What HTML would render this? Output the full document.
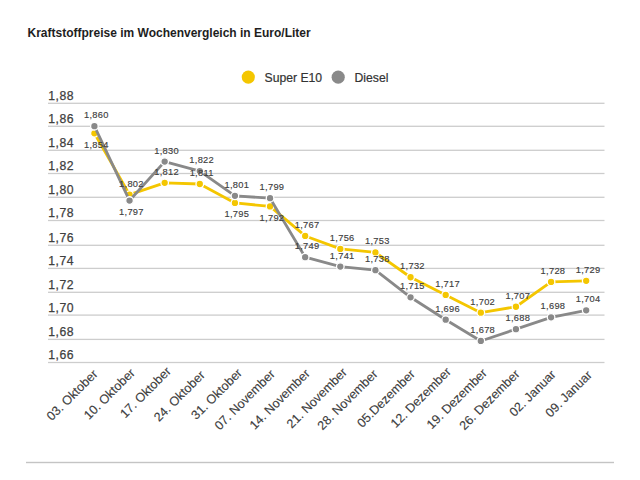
<!DOCTYPE html>
<html><head><meta charset="utf-8"><style>
html,body{margin:0;padding:0;background:#fff;width:640px;height:480px;overflow:hidden}
svg{display:block}
text{font-family:"Liberation Sans",sans-serif;stroke:#404040;stroke-width:0.25px}
.title{stroke:none}
.title{font-size:12px;font-weight:bold;fill:#1e1e1e}
.leg{font-size:12.2px;fill:#333;stroke:#333;stroke-width:0.2px}
.yt{font-size:12.2px;fill:#404040;letter-spacing:0.55px}
.dl{font-size:9.3px;fill:#404040;text-anchor:middle;letter-spacing:0.3px;stroke-width:0.15px}
.xl{font-size:12.6px;fill:#404040;text-anchor:end;stroke-width:0.12px}
</style></head><body>
<svg width="640" height="480" viewBox="0 0 640 480">
<text x="27.5" y="37" class="title">Kraftstoffpreise im Wochenvergleich in Euro/Liter</text>
<circle cx="248.3" cy="77.1" r="6.6" fill="#F4C600"/>
<text x="264.5" y="82" class="leg">Super E10</text>
<circle cx="338.2" cy="77.2" r="6.6" fill="#898989"/>
<text x="354.5" y="82" class="leg">Diesel</text>
<rect x="48" y="102.65" width="556.5" height="1.3" fill="#cdcdcd"/>
<text x="48.2" y="99.75" class="yt">1,88</text>
<rect x="48" y="125.65" width="556.5" height="1.3" fill="#cdcdcd"/>
<text x="48.2" y="122.75" class="yt">1,86</text>
<rect x="48" y="149.65" width="556.5" height="1.3" fill="#cdcdcd"/>
<text x="48.2" y="146.75" class="yt">1,84</text>
<rect x="48" y="172.85" width="556.5" height="1.3" fill="#cdcdcd"/>
<text x="48.2" y="169.75" class="yt">1,82</text>
<rect x="48" y="196.65" width="556.5" height="1.3" fill="#cdcdcd"/>
<text x="48.2" y="193.75" class="yt">1,80</text>
<rect x="48" y="219.85" width="556.5" height="1.3" fill="#cdcdcd"/>
<text x="48.2" y="216.75" class="yt">1,78</text>
<rect x="48" y="244.65" width="556.5" height="1.3" fill="#cdcdcd"/>
<text x="48.2" y="241.75" class="yt">1,76</text>
<rect x="48" y="267.75" width="556.5" height="1.3" fill="#cdcdcd"/>
<text x="48.2" y="264.75" class="yt">1,74</text>
<rect x="48" y="291.65" width="556.5" height="1.3" fill="#cdcdcd"/>
<text x="48.2" y="288.75" class="yt">1,72</text>
<rect x="48" y="314.45" width="556.5" height="1.3" fill="#cdcdcd"/>
<text x="48.2" y="311.75" class="yt">1,70</text>
<rect x="48" y="338.75" width="556.5" height="1.3" fill="#cdcdcd"/>
<text x="48.2" y="335.75" class="yt">1,68</text>
<rect x="48" y="361.85" width="556.5" height="1.3" fill="#cdcdcd"/>
<text x="48.2" y="358.75" class="yt">1,66</text>
<rect x="26" y="461.8" width="588" height="1.4" fill="#c4c4c4"/>
<polyline points="94.41,133.28 129.54,194.64 164.67,182.84 199.79,184.02 234.92,202.90 270.05,206.44 305.18,235.94 340.31,248.92 375.43,252.46 410.56,277.24 445.69,294.94 480.82,312.64 515.95,306.74 551.07,281.96 586.20,280.78" fill="none" stroke="#F4C600" stroke-width="2.8" stroke-linejoin="round"/>
<circle cx="94.41" cy="133.28" r="3.8" fill="#F4C600" stroke="#fff" stroke-width="1.3"/>
<circle cx="129.54" cy="194.64" r="3.8" fill="#F4C600" stroke="#fff" stroke-width="1.3"/>
<circle cx="164.67" cy="182.84" r="3.8" fill="#F4C600" stroke="#fff" stroke-width="1.3"/>
<circle cx="199.79" cy="184.02" r="3.8" fill="#F4C600" stroke="#fff" stroke-width="1.3"/>
<circle cx="234.92" cy="202.90" r="3.8" fill="#F4C600" stroke="#fff" stroke-width="1.3"/>
<circle cx="270.05" cy="206.44" r="3.8" fill="#F4C600" stroke="#fff" stroke-width="1.3"/>
<circle cx="305.18" cy="235.94" r="3.8" fill="#F4C600" stroke="#fff" stroke-width="1.3"/>
<circle cx="340.31" cy="248.92" r="3.8" fill="#F4C600" stroke="#fff" stroke-width="1.3"/>
<circle cx="375.43" cy="252.46" r="3.8" fill="#F4C600" stroke="#fff" stroke-width="1.3"/>
<circle cx="410.56" cy="277.24" r="3.8" fill="#F4C600" stroke="#fff" stroke-width="1.3"/>
<circle cx="445.69" cy="294.94" r="3.8" fill="#F4C600" stroke="#fff" stroke-width="1.3"/>
<circle cx="480.82" cy="312.64" r="3.8" fill="#F4C600" stroke="#fff" stroke-width="1.3"/>
<circle cx="515.95" cy="306.74" r="3.8" fill="#F4C600" stroke="#fff" stroke-width="1.3"/>
<circle cx="551.07" cy="281.96" r="3.8" fill="#F4C600" stroke="#fff" stroke-width="1.3"/>
<circle cx="586.20" cy="280.78" r="3.8" fill="#F4C600" stroke="#fff" stroke-width="1.3"/>
<polyline points="94.41,126.20 129.54,200.54 164.67,161.60 199.79,171.04 234.92,195.82 270.05,198.18 305.18,257.18 340.31,266.62 375.43,270.16 410.56,297.30 445.69,319.72 480.82,340.96 515.95,329.16 551.07,317.36 586.20,310.28" fill="none" stroke="#898989" stroke-width="2.8" stroke-linejoin="round"/>
<circle cx="94.41" cy="126.20" r="3.8" fill="#898989" stroke="#fff" stroke-width="1.3"/>
<circle cx="129.54" cy="200.54" r="3.8" fill="#898989" stroke="#fff" stroke-width="1.3"/>
<circle cx="164.67" cy="161.60" r="3.8" fill="#898989" stroke="#fff" stroke-width="1.3"/>
<circle cx="199.79" cy="171.04" r="3.8" fill="#898989" stroke="#fff" stroke-width="1.3"/>
<circle cx="234.92" cy="195.82" r="3.8" fill="#898989" stroke="#fff" stroke-width="1.3"/>
<circle cx="270.05" cy="198.18" r="3.8" fill="#898989" stroke="#fff" stroke-width="1.3"/>
<circle cx="305.18" cy="257.18" r="3.8" fill="#898989" stroke="#fff" stroke-width="1.3"/>
<circle cx="340.31" cy="266.62" r="3.8" fill="#898989" stroke="#fff" stroke-width="1.3"/>
<circle cx="375.43" cy="270.16" r="3.8" fill="#898989" stroke="#fff" stroke-width="1.3"/>
<circle cx="410.56" cy="297.30" r="3.8" fill="#898989" stroke="#fff" stroke-width="1.3"/>
<circle cx="445.69" cy="319.72" r="3.8" fill="#898989" stroke="#fff" stroke-width="1.3"/>
<circle cx="480.82" cy="340.96" r="3.8" fill="#898989" stroke="#fff" stroke-width="1.3"/>
<circle cx="515.95" cy="329.16" r="3.8" fill="#898989" stroke="#fff" stroke-width="1.3"/>
<circle cx="551.07" cy="317.36" r="3.8" fill="#898989" stroke="#fff" stroke-width="1.3"/>
<circle cx="586.20" cy="310.28" r="3.8" fill="#898989" stroke="#fff" stroke-width="1.3"/>
<text x="96.31" y="147.78" class="dl">1,854</text>
<text x="131.44" y="186.54" class="dl">1,802</text>
<text x="166.57" y="174.74" class="dl">1,812</text>
<text x="201.69" y="175.92" class="dl">1,811</text>
<text x="236.82" y="217.40" class="dl">1,795</text>
<text x="271.95" y="220.94" class="dl">1,792</text>
<text x="307.08" y="227.84" class="dl">1,767</text>
<text x="342.21" y="240.82" class="dl">1,756</text>
<text x="377.33" y="244.36" class="dl">1,753</text>
<text x="412.46" y="269.14" class="dl">1,732</text>
<text x="447.59" y="286.84" class="dl">1,717</text>
<text x="482.72" y="304.54" class="dl">1,702</text>
<text x="517.85" y="298.64" class="dl">1,707</text>
<text x="552.97" y="273.86" class="dl">1,728</text>
<text x="588.10" y="272.68" class="dl">1,729</text>
<text x="96.31" y="118.10" class="dl">1,860</text>
<text x="131.44" y="215.04" class="dl">1,797</text>
<text x="166.57" y="153.50" class="dl">1,830</text>
<text x="201.69" y="162.94" class="dl">1,822</text>
<text x="236.82" y="187.72" class="dl">1,801</text>
<text x="271.95" y="190.08" class="dl">1,799</text>
<text x="307.08" y="249.08" class="dl">1,749</text>
<text x="342.21" y="258.52" class="dl">1,741</text>
<text x="377.33" y="262.06" class="dl">1,738</text>
<text x="412.46" y="289.20" class="dl">1,715</text>
<text x="447.59" y="311.62" class="dl">1,696</text>
<text x="482.72" y="332.86" class="dl">1,678</text>
<text x="517.85" y="321.06" class="dl">1,688</text>
<text x="552.97" y="309.26" class="dl">1,698</text>
<text x="588.10" y="302.18" class="dl">1,704</text>
<text transform="translate(98.40,374.75) rotate(-45)" class="xl">03. Oktober</text>
<text transform="translate(135.60,373.70) rotate(-45)" class="xl">10. Oktober</text>
<text transform="translate(171.70,372.10) rotate(-45)" class="xl">17. Oktober</text>
<text transform="translate(205.60,375.80) rotate(-45)" class="xl">24. Oktober</text>
<text transform="translate(242.80,373.70) rotate(-45)" class="xl">31. Oktober</text>
<text transform="translate(275.60,374.75) rotate(-45)" class="xl">07. November</text>
<text transform="translate(310.60,374.30) rotate(-45)" class="xl">14. November</text>
<text transform="translate(347.80,373.00) rotate(-45)" class="xl">21. November</text>
<text transform="translate(378.40,374.75) rotate(-45)" class="xl">28. November</text>
<text transform="translate(415.60,374.75) rotate(-45)" class="xl">05.Dezember</text>
<text transform="translate(451.70,372.60) rotate(-45)" class="xl">12. Dezember</text>
<text transform="translate(487.80,373.70) rotate(-45)" class="xl">19. Dezember</text>
<text transform="translate(520.40,374.75) rotate(-45)" class="xl">26. Dezember</text>
<text transform="translate(556.50,375.20) rotate(-45)" class="xl">02. Januar</text>
<text transform="translate(592.60,375.80) rotate(-45)" class="xl">09. Januar</text>
</svg>
</body></html>
